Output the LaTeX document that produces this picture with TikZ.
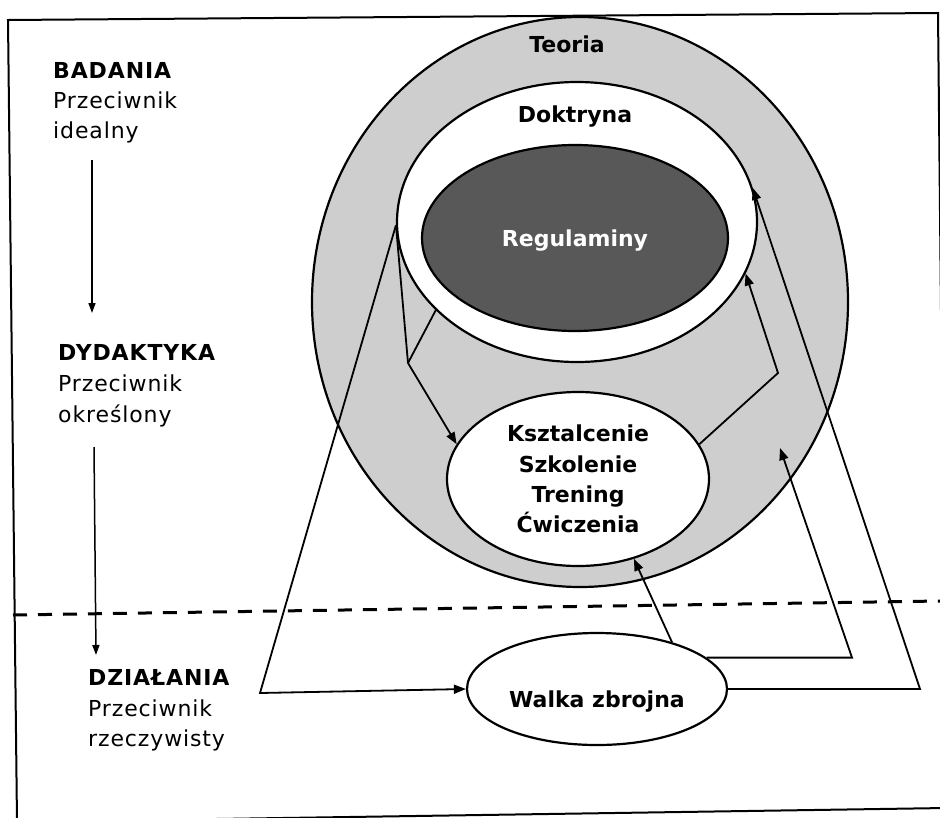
\documentclass[tikz,border=0pt]{standalone}
\usepackage{fontspec}
\setmainfont{DejaVu Sans}
\newfontfamily\lfont[LetterSpace=4]{DejaVu Sans}
\usetikzlibrary{shapes.geometric,arrows.meta}
\definecolor{ringgray}{RGB}{206,206,206}
\definecolor{darkfill}{RGB}{88,88,88}
\begin{document}
\begin{tikzpicture}[x=1pt,y=-1pt,
  ell/.style={ellipse, draw=black, line width=2.2pt, inner sep=0pt},
  lbl/.style={font=\bfseries\fontsize{22}{26}\selectfont, inner sep=0pt, anchor=base},
  hd/.style={font=\lfont\bfseries\fontsize{22}{26}\selectfont, inner sep=0pt, anchor=base west},
  tx/.style={font=\lfont\fontsize{22}{26}\selectfont, inner sep=0pt, anchor=base west},
  conn/.style={line width=1.8pt, line join=miter},
  arr/.style={-{Triangle[length=12pt,width=9pt]}},
  larrow/.style={line width=1.5pt, -{Triangle[length=10pt,width=7pt]}}]
\useasboundingbox (0,0) rectangle (940,817);
\clip (0,0) rectangle (940,817);
\fill[white] (0,0) rectangle (940,817);
% frame
\draw[line width=2pt] (8,20) -- (938,13) -- (946,808) -- (17,822) -- cycle;
% ellipses
\node[ell, fill=ringgray, minimum width=536pt, minimum height=570pt] (teo) at (580,302) {};
\node[ell, fill=white, minimum width=360pt, minimum height=280pt] (dok) at (577,222) {};
\node[ell, fill=darkfill, minimum width=306pt, minimum height=186pt, text=white,
      font=\bfseries\fontsize{22}{26}\selectfont, text depth=0pt] (reg) at (575,238) {Regulaminy};
\node[ell, fill=white, minimum width=262pt, minimum height=174pt, align=center,
      font=\bfseries\fontsize{22}{30.3}\selectfont] (ksz) at (578,479)
      {Ksztalcenie\\Szkolenie\\Trening\\Ćwiczenia};
\node[ell, fill=white, minimum width=260pt, minimum height=112pt] (walka) at (597,689) {};
\node[lbl] (walkatxt) at (597,707) {Walka zbrojna};
\node[lbl] (teotxt) at (567,52) {Teoria};
\node[lbl] (doktxt) at (575,122) {Doktryna};
% left texts
\node[hd] (bad) at (53,78) {BADANIA};
\node[tx] (bad2) at (53,108) {Przeciwnik};
\node[tx] (bad3) at (53,138) {idealny};
\node[hd] (dyd) at (58,360) {DYDAKTYKA};
\node[tx] (dyd2) at (58,391) {Przeciwnik};
\node[tx] (dyd3) at (58,422) {określony};
\node[hd] (dzi) at (88,685) {DZIAŁANIA};
\node[tx] (dzi2) at (88,716) {Przeciwnik};
\node[tx] (dzi3) at (88,746) {rzeczywisty};
\coordinate (a1s) at (92,160);
\coordinate (a1e) at (92,313);
\coordinate (a2s) at (94,447);
\coordinate (a2e) at (96,655);
\draw[larrow] (a1s) -- (a1e);
% dashed separator
\draw[line width=3pt, dash pattern=on 14pt off 11pt] (13,615) -- (940,601);
\draw[larrow] (a2s) -- (a2e);
% connectors
\coordinate (cC) at (260,693);
\coordinate (cA) at (408,363);
\coordinate (c3) at (778,373);
\coordinate (c4) at (920,0);
\coordinate (c5) at (852,0);
\coordinate (t5) at (780,448);
\draw[conn, arr] (dok.181) -- (cC) -- (walka.west);
\draw[conn, arr] (dok.181) -- (cA) -- (ksz.164);
\draw[conn] (dok.212) -- (cA);
\draw[conn, arr] (ksz.16) -- (c3) -- (dok.343);
\draw[conn, arr] (walka.east) -- (walka.east -| c4) -- (dok.11);
\draw[conn, arr] (walka.16) -- (walka.16 -| c5) -- (t5);
\draw[conn, arr] (walka.32) -- (ksz.305);
\end{tikzpicture}
\end{document}
